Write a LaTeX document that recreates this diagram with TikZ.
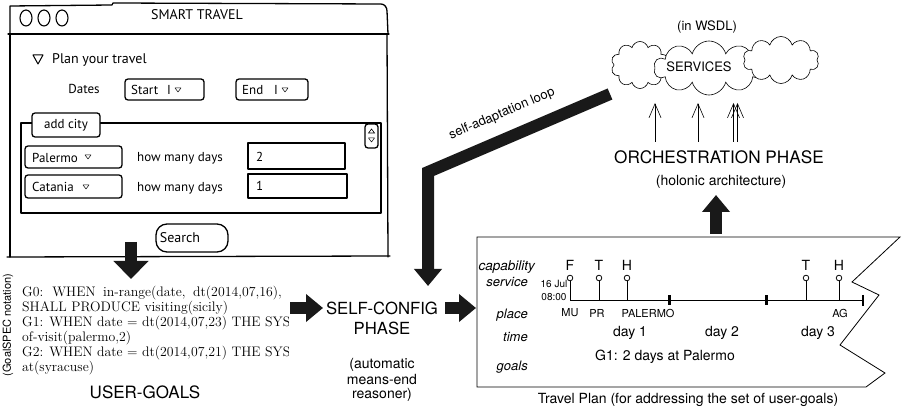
\documentclass[tikz,border=0pt]{standalone}
\usepackage{fontspec}
\setsansfont{TeX Gyre Heros}
\newfontfamily\skf{PT Sans}
\usetikzlibrary{shapes.symbols,arrows.meta}
\tikzset{
 skl/.style={line width=1.3pt, line cap=round, line join=round},
 skbox/.style={draw, skl, rounded corners=3pt},
 skt/.style={font=\skf\fontsize{#1}{#1}\selectfont, inner sep=0pt},
 hv/.style={font=\sffamily\fontsize{#1}{#1}\selectfont, inner sep=0pt},
 hvi/.style={font=\sffamily\itshape\fontsize{#1}{#1}\selectfont, inner sep=0pt},
 rmline/.style={font=\fontsize{13.8}{15}\selectfont, inner sep=0pt, anchor=base west},
 fat/.style={draw=black!90, line width=12pt, -{Triangle[length=17pt 0 0, width=27pt 0 0]}},
 fatbig/.style={draw=black!90, line width=12pt, -{Triangle[length=18pt 0 0, width=34pt 0 0]}},
 orch/.style={line width=0.6pt, -{Straight Barb[length=14pt 0 0, width=12pt 0 0]}},
 cl/.style={cloud, cloud puffs=10, cloud ignores aspect, draw, fill=white, line width=0.6pt, inner sep=0pt},
 ddtri/.pic={\draw[line width=0.5pt, line join=round] (-3,-2) -- (3,-2) -- (0,2) -- cycle;},
 lolli/.pic={\draw[line width=1pt] (0,3) -- (0,22.5); \draw[line width=0.8pt] (0,0) circle (2.8);},
}
\begin{document}
\begin{tikzpicture}[x=1pt,y=-1pt]
\useasboundingbox (0,0) rectangle (902,411);

% ---------------- sketch window ----------------
\draw[skl] (10,34) -- (10,6) -- (112,5) -- (113,3) -- (381,4) to[out=0,in=90] (387,11) -- (388,34);
\draw[skl] (8,34) -- (389,34);
\draw[skl] (10,34) -- (10,257);
\draw[skl] (387,34) -- (388,257);
\draw[skl] (7,257) -- (390,256);
\foreach \cx in {26,44,62}
  \draw[line width=1.1pt] (\cx,18) ellipse (6 and 8);
\node[skt=14] (title) at (197,15) {SMART TRAVEL};

\draw[line width=1pt, line join=round] (33,55) -- (43,55) -- (38,64) -- cycle;
\node[skt=14, anchor=west] (plan) at (52,60) {Plan your travel};
\node[skt=13] (dates) at (84,89) {Dates};
\draw[skbox] (125,79) rectangle (204,100);
\node[skt=13, anchor=west] (start) at (131,90) {Start};
\node[skt=13, anchor=west] (startc) at (167,90) {I};
\pic at (178,90) {ddtri};
\draw[skbox] (236,79) rectangle (308,100);
\node[skt=13, anchor=west] (endt) at (242,90) {End};
\node[skt=13, anchor=west] (endc) at (274,90) {I};
\pic at (285,90) {ddtri};

\draw[skl] (21,123) rectangle (381,213);
\draw[skbox, fill=white] (32,113) rectangle (100,137);
\node[skt=13] (addcity) at (66,125) {add city};
\draw[skbox] (365,124) rectangle (378,148);
\draw[line width=0.6pt] (368.5,133) -- (374.5,133) -- (371.5,129) -- cycle;
\pic at (371.5,140) {ddtri};

\draw[skbox] (25,146) rectangle (122,168);
\node[skt=13, anchor=west] (pal) at (32,158) {Palermo};
\pic at (88,157) {ddtri};
\node[skt=13] (hm1) at (180,158) {how many days};
\draw[skl] (248,143) rectangle (345,169);
\node[skt=13, anchor=west] (v2) at (256,157) {2};

\draw[skbox] (25,175) rectangle (122,198);
\node[skt=13, anchor=west] (cat) at (32,187) {Catania};
\pic at (86,187) {ddtri};
\node[skt=13] (hm2) at (180,188) {how many days};
\draw[skl] (248,174) rectangle (347,198);
\node[skt=13, anchor=west] (v1) at (256,186) {1};

\draw[skl, rounded corners=11pt] (156,224) rectangle (228,252);
\node[skt=14] (search) at (180,238) {Search};

% ---------------- user goals ----------------
\coordinate (a1s) at (131,242);
\coordinate (a1e) at (131,279);
\draw[fatbig] (a1s) -- (a1e);

\begin{scope}
\clip (17,280) rectangle (288.5,380);
\node[rmline] (g0a) at (22,297) {G0:\hspace{3pt} WHEN\hspace{3pt} in-range(date,\hspace{3pt} dt(2014,07,16),};
\node[rmline] (g0b) at (22,311.5) {SHALL PRODUCE visiting(sicily)};
\node[rmline] (g1a) at (22,326.5) {G1: WHEN date = dt(2014,07,23) THE SYSTEM};
\node[rmline] (g1b) at (22,341.5) {of-visit(palermo,2)};
\node[rmline] (g2a) at (22,357) {G2: WHEN date = dt(2014,07,21) THE SYSTEM};
\node[rmline] (g2b) at (22,372) {at(syracuse)};
\end{scope}
\node[hv=11, rotate=90] (gsn) at (8,325) {(GoalSPEC notation)};
\node[hv=17] (ug) at (145,392) {USER-GOALS};

% ---------------- self-config ----------------
\coordinate (a2s) at (290,308);
\coordinate (a2e) at (323,308);
\draw[fat] (a2s) -- (a2e);
\node[hv=16.7] (sc1) at (382,308) {SELF-CONFIG};
\node[hv=16.7] (sc2) at (382,328) {PHASE};
\node[hv=14] (am1) at (382,365) {(automatic};
\node[hv=14] (am2) at (382,380) {means-end};
\node[hv=14] (am3) at (382,395) {reasoner)};
\coordinate (a3s) at (445,308);
\coordinate (a3e) at (476,308);
\draw[fat] (a3s) -- (a3e);

% ---------------- self-adaptation loop ----------------
\coordinate (lpA) at (610,94);
\coordinate (lpB) at (428,172);
\coordinate (lpC) at (428,286);
\draw[fat, line join=miter] (lpA) -- (lpB) -- (lpC);
\node[hv=13, rotate=23.2] (sal) at (502,114) {self-adaptation loop};

% ---------------- services ----------------
\node[hv=13] (wsdl) at (707,27) {(in WSDL)};
\node[cl, minimum width=58pt, minimum height=47pt] (cloudL) at (640,65) {};
\node[cl, minimum width=110pt, minimum height=54pt] (cloudM) at (709,68) {};
\node[cl, minimum width=76pt, minimum height=47pt] (cloudR) at (781,60) {};
\node[hv=13] (serv) at (699,67) {SERVICES};
\foreach \ax/\nm in {655/o1,698/o2,733.5/o3,737.5/o4}{
  \coordinate (\nm s) at (\ax,142);
  \coordinate (\nm e) at (\ax,103);
  \draw[orch] (\nm s) -- (\nm e);
}
\node[hv=17.2] (orchp) at (719,157) {ORCHESTRATION PHASE};
\node[hv=14] (holo) at (721,182) {(holonic architecture)};
\coordinate (a4s) at (716,234);
\coordinate (a4e) at (716,195);
\draw[fat] (a4s) -- (a4e);

% ---------------- travel plan ----------------
\draw[line width=0.8pt, line join=miter] (900,237) -- (477,237) -- (477,387) -- (866,387)
   -- (885,373) -- (840,345) -- (879,295) -- (852,282) -- cycle;
\node[hvi=13.5, anchor=east] (lcap) at (535,267) {capability};
\node[hvi=13, anchor=east] (lser) at (528,282) {service};
\node[hvi=13, anchor=east] (lpla) at (528,315) {place};
\node[hvi=13, anchor=east] (ltim) at (528,337) {time};
\node[hvi=13, anchor=east] (lgoa) at (528,367) {goals};

\draw[line width=1.4pt] (570,300.5) -- (863,300.5);
\draw[line width=1.2pt] (863,295) -- (863,306);
\draw[line width=3pt] (669,295.5) -- (669,305.5);
\draw[line width=3pt] (766,295.5) -- (766,305.5);
\foreach \lx/\lt/\nm in {570/F/f1,599/T/t1,627/H/h1,806/T/t2,839/H/h2}{
  \pic at (\lx,278) {lolli};
  \node[hv=14] (\nm) at (\lx,265) {\lt};
}
\node[hv=10] (jul) at (554,284) {16 Jul};
\node[hv=10] (hour) at (554,297) {08:00};
\node[hv=11] (mu) at (570,313) {MU};
\node[hv=11] (pr) at (597,313) {PR};
\node[hv=11] (pa) at (648,313) {PALERMO};
\node[hv=11] (ag) at (840,313) {AG};
\node[hv=14] (d1) at (630,333) {day 1};
\node[hv=14] (d2) at (722,333) {day 2};
\node[hv=14] (d3) at (818,333) {day 3};
\node[hv=14] (g1p) at (665,357) {G1: 2 days at Palermo};
\node[hv=14] (cap) at (688,400) {Travel Plan (for addressing the set of user-goals)};
\end{tikzpicture}
\end{document}
